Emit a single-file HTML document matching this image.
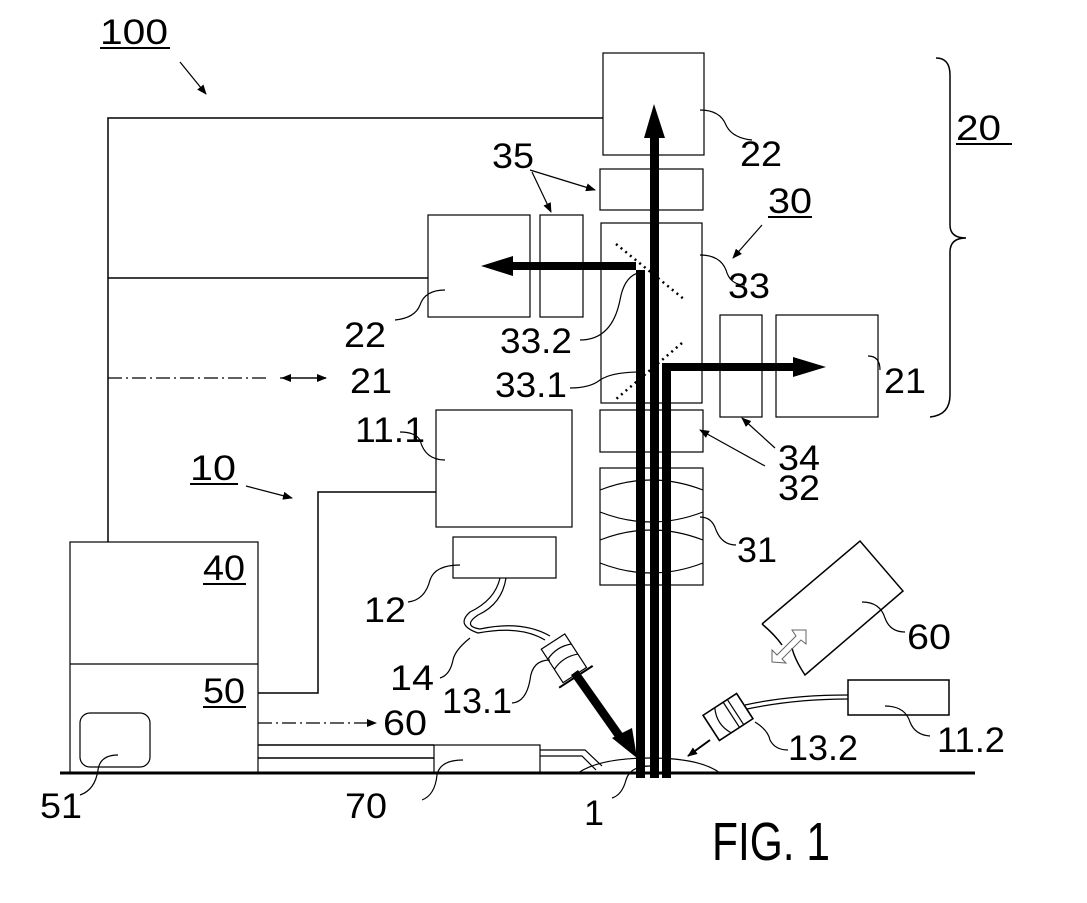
<!DOCTYPE html>
<html><head><meta charset="utf-8"><style>
body{margin:0;background:#fff}
svg text{font-family:"Liberation Sans",sans-serif;font-size:35px;fill:#000}
</style></head><body>
<svg width="1087" height="898" viewBox="0 0 1087 898" xmlns="http://www.w3.org/2000/svg">
<defs>
<marker id="ah" markerWidth="10" markerHeight="8" refX="9" refY="4" orient="auto" markerUnits="userSpaceOnUse"><path d="M0,0 L10,4 L0,8 z"/></marker>
</defs>
<g fill="none" stroke="#000" stroke-width="1.2">
<rect x="603" y="53" width="101" height="102"/>
<rect x="600" y="169" width="103" height="41"/>
<rect x="601" y="223" width="101" height="180"/>
<rect x="540" y="215" width="43" height="102"/>
<rect x="428" y="215" width="102" height="102"/>
<rect x="720" y="315" width="42" height="102"/>
<rect x="776" y="315" width="102" height="102"/>
<rect x="600" y="410" width="103" height="42"/>
<rect x="600" y="468" width="103" height="117"/>
<path d="M600,490 Q651,470 703,490 M600,512 Q651,532 703,512 M600,540 Q651,520 703,540 M600,563 Q651,583 703,563"/>
<rect x="436" y="410" width="136" height="117"/>
<rect x="453" y="537" width="103" height="41"/>
<rect x="70" y="542" width="188" height="231"/>
<line x1="70" y1="664" x2="258" y2="664"/>
<rect x="80" y="713" width="70" height="54" rx="10"/>
<rect x="434" y="745" width="106" height="28"/>
<rect x="848" y="680" width="101" height="35" stroke-width="1.5"/>
<path d="M108,542 V118 H603 M108,278 H428 M436,492 H318 V693 H258 M258,745 H434 M258,758 H434" stroke-width="1.5"/>
<path d="M108,378 H268" stroke-dasharray="14,4,2,4" stroke-width="1.3"/>
<path d="M258,723 H376" stroke-dasharray="14,4,2,4" stroke-width="1.3" marker-end="url(#ah)"/>
<path d="M540,750 H585 L602,766 M540,756 H582 L596,770"/>
<path d="M616,244 L685,300 M682,343 L615,400" stroke-dasharray="2,4" stroke-width="2.5"/>
<line x1="60" y1="773" x2="975" y2="773" stroke-width="3"/>
<path d="M578,773 Q600,758 650,758 Q700,758 720,773"/>
<path d="M500,578 Q495,600 470,612 Q455,625 478,633 Q520,625 545,640 M506,578 Q502,604 478,615 Q462,626 480,629 Q522,620 550,636"/>
<g transform="translate(565,660) rotate(-33)">
<rect x="-14" y="-22" width="28" height="40"/><line x1="-20" y1="20" x2="20" y2="20" stroke-width="2"/>
<path d="M-14,-10 Q0,-16 14,-10 M-14,2 Q0,-4 14,2"/>
</g>
<g transform="translate(728,717) rotate(-33)">
<rect x="-20" y="-15" width="40" height="30" stroke-width="1.6"/><path d="M-6,-15 Q-14,0 -6,15 M4,-15 V15 M9,-15 V15"/>
</g>
<path d="M745,705 Q790,695 848,695 M747,709 Q795,699 848,699"/>
<!-- 60 device -->
<path d="M762,624 L860,541 L903,591 L805,675 Q795,660 792,648" stroke-width="1.5"/>
<path d="M762,624 Q775,635 782,645" stroke-width="1.5"/>
<path d="M772,662 L772,650 L777,655 L796,636 L792,630 L806,630 L806,644 L801,640 L782,659 L786,663 z" stroke-width="1" stroke="#666"/>
<!-- leaders -->
<path d="M700,110 Q720,110 726,125 Q732,138 752,140"/>
<path d="M700,255 Q720,255 726,270 Q730,285 745,285"/>
<path d="M445,290 Q425,290 420,305 Q415,318 395,320"/>
<path d="M645,272 Q625,272 620,300 Q612,340 580,340"/>
<path d="M640,372 Q612,372 600,380 Q590,388 570,388"/>
<path d="M868,356 Q880,356 880,370"/>
<path d="M445,460 Q425,460 420,440 Q415,432 400,432"/>
<path d="M460,565 Q435,565 430,580 Q425,600 408,602"/>
<path d="M470,638 Q455,650 453,660 Q450,675 440,678"/>
<path d="M550,660 Q532,660 530,680 Q526,702 512,703"/>
<path d="M700,517 Q712,517 716,530 Q722,545 736,545"/>
<path d="M862,602 Q880,602 885,618 Q890,632 905,632"/>
<path d="M885,706 Q905,706 910,722 Q915,735 930,736"/>
<path d="M755,722 Q768,730 770,740 Q775,750 788,750"/>
<path d="M463,760 Q440,760 437,775 Q435,795 422,800"/>
<path d="M650,766 Q630,766 626,780 Q622,795 612,798"/>
<path d="M118,755 Q100,755 98,770 Q95,790 80,795"/>
<path d="M936,58 Q950,58 950,75 V225 Q950,238 966,238 Q950,238 950,252 V395 Q950,415 930,417" stroke-width="1.5"/>
<path d="M180,62 L206,94" marker-end="url(#ah)"/>
<path d="M530,170 L595,190" marker-end="url(#ah)"/>
<path d="M532,172 L551,212" marker-end="url(#ah)"/>
<path d="M762,225 L733,258" marker-end="url(#ah)"/>
<path d="M775,448 L742,418" marker-end="url(#ah)"/>
<path d="M765,466 L700,430" marker-end="url(#ah)"/>
<path d="M246,486 L292,498" marker-end="url(#ah)"/>
<path d="M710,740 L688,756" marker-end="url(#ah)" stroke-width="2"/>
<path d="M280,378 H326" marker-end="url(#ah)"/>
<path d="M326,378 H282" marker-end="url(#ah)"/>
</g>
<g fill="#000">
<rect x="650" y="135" width="9" height="643"/>
<path d="M644,138 L654,104 L665,138 z"/>
<path d="M636,778 V262 H513 V270 H645 V778 z"/>
<path d="M513,256 L481,266 L513,276 z"/>
<path d="M662,778 V363 H793 V371 H671 V778 z"/>
<path d="M793,357 L826,367 L793,377 z"/>
<path d="M571,675 L578,670 L626,738 L619,743 z"/>
<path d="M612,738 L637,758 L632,728 z"/>
</g>
<g>
<text x="100" y="44" textLength="68" lengthAdjust="spacingAndGlyphs">100</text><line x1="100" y1="48" x2="170" y2="48" stroke="#000" stroke-width="2"/>
<text x="956" y="140" textLength="45" lengthAdjust="spacingAndGlyphs">20</text><line x1="956" y1="144" x2="1012" y2="144" stroke="#000" stroke-width="2"/>
<text x="768" y="213" textLength="44" lengthAdjust="spacingAndGlyphs">30</text><line x1="768" y1="217" x2="812" y2="217" stroke="#000" stroke-width="2"/>
<text x="190" y="480" textLength="46" lengthAdjust="spacingAndGlyphs">10</text><line x1="190" y1="484" x2="238" y2="484" stroke="#000" stroke-width="2"/>
<text x="203" y="580" textLength="42" lengthAdjust="spacingAndGlyphs">40</text><line x1="203" y1="584" x2="246" y2="584" stroke="#000" stroke-width="2"/>
<text x="203" y="703" textLength="42" lengthAdjust="spacingAndGlyphs">50</text><line x1="203" y1="707" x2="246" y2="707" stroke="#000" stroke-width="2"/>
<text x="740" y="166" textLength="42" lengthAdjust="spacingAndGlyphs">22</text>
<text x="492" y="168" textLength="42" lengthAdjust="spacingAndGlyphs">35</text>
<text x="728" y="298" textLength="42" lengthAdjust="spacingAndGlyphs">33</text>
<text x="344" y="347" textLength="42" lengthAdjust="spacingAndGlyphs">22</text>
<text x="500" y="353" textLength="72" lengthAdjust="spacingAndGlyphs">33.2</text>
<text x="495" y="397" textLength="72" lengthAdjust="spacingAndGlyphs">33.1</text>
<text x="884" y="393" textLength="42" lengthAdjust="spacingAndGlyphs">21</text>
<text x="350" y="393" textLength="42" lengthAdjust="spacingAndGlyphs">21</text>
<text x="778" y="470" textLength="42" lengthAdjust="spacingAndGlyphs">34</text>
<text x="778" y="500" textLength="42" lengthAdjust="spacingAndGlyphs">32</text>
<text x="737" y="562" textLength="40" lengthAdjust="spacingAndGlyphs">31</text>
<text x="355" y="442" textLength="70" lengthAdjust="spacingAndGlyphs">11.1</text>
<text x="364" y="622" textLength="42" lengthAdjust="spacingAndGlyphs">12</text>
<text x="390" y="690" textLength="44" lengthAdjust="spacingAndGlyphs">14</text>
<text x="442" y="713" textLength="70" lengthAdjust="spacingAndGlyphs">13.1</text>
<text x="907" y="649" textLength="44" lengthAdjust="spacingAndGlyphs">60</text>
<text x="383" y="735" textLength="44" lengthAdjust="spacingAndGlyphs">60</text>
<text x="937" y="752" textLength="68" lengthAdjust="spacingAndGlyphs">11.2</text>
<text x="788" y="760" textLength="70" lengthAdjust="spacingAndGlyphs">13.2</text>
<text x="40" y="818" textLength="42" lengthAdjust="spacingAndGlyphs">51</text>
<text x="345" y="818" textLength="42" lengthAdjust="spacingAndGlyphs">70</text>
<text x="584" y="825" textLength="20" lengthAdjust="spacingAndGlyphs">1</text>
<text x="712" y="860" style="font-size:54px" textLength="118" lengthAdjust="spacingAndGlyphs">FIG. 1</text>
</g>
</svg>
</body></html>
